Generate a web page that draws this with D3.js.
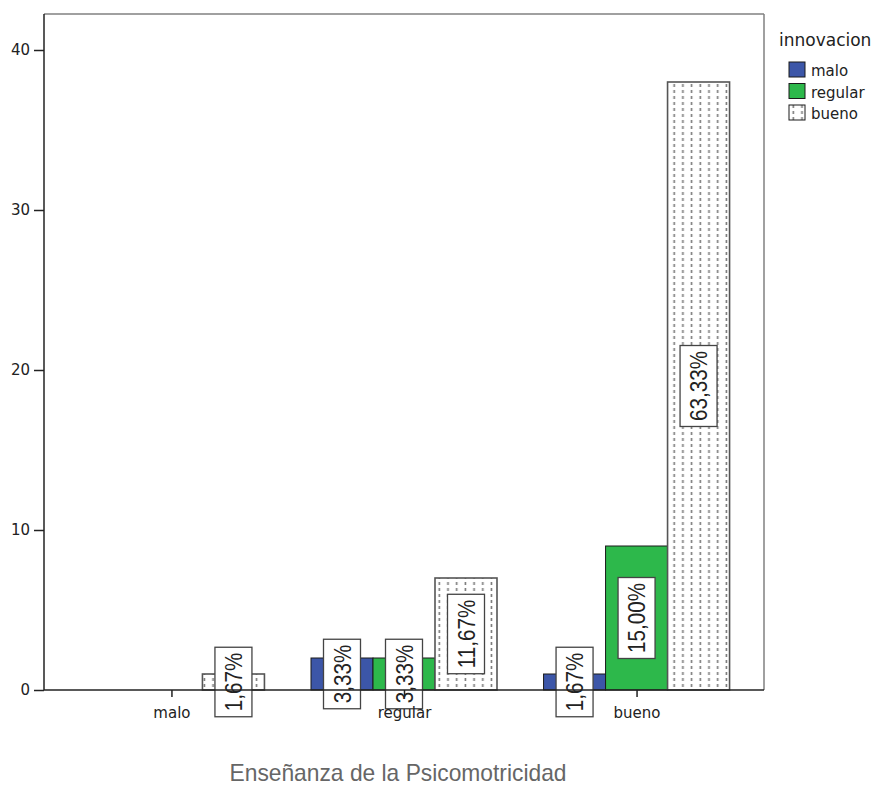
<!DOCTYPE html>
<html>
<head>
<meta charset="utf-8">
<script src="https://cdn.jsdelivr.net/npm/d3@7/dist/d3.min.js"></script>
<style>
  body { margin: 0; background: #fff; }
</style>
</head>
<body>
<div id="chart"></div>
<script>
// data (counts, N = 60)
const CATEGORIES = ["malo", "regular", "bueno"];
const SERIES = ["malo", "regular", "bueno"];
const MALO_VALUES = [0, 2, 1];
const REGULAR_VALUES = [0, 2, 9];
const BUENO_VALUES = [1, 7, 38];
const MALO_LABELS = ["", "3,33%", "1,67%"];
const REGULAR_LABELS = ["", "3,33%", "15,00%"];
const BUENO_LABELS = ["1,67%", "11,67%", "63,33%"];
const Y_TICKS = [0, 10, 20, 30, 40];
const LEGEND_TITLE = "innovacion";
const X_TITLE = "Enseñanza de la Psicomotricidad";

// page set up
const FRAME_WIDTH = 885;
const FRAME_HEIGHT = 785;
const PLOT = {left: 44, right: 764, top: 14, bottom: 690};
const COLORS = {malo: "#3c56a8", regular: "#2db84b", bueno: "url(#dots)"};

const SVG = d3.select("#chart")
  .append("svg")
  .attr("width", FRAME_WIDTH)
  .attr("height", FRAME_HEIGHT);

// dotted fill for the "bueno" bars
const pat = SVG.append("defs").append("pattern")
  .attr("id", "dots")
  .attr("patternUnits", "userSpaceOnUse")
  .attr("width", 8.7)
  .attr("height", 6);
pat.append("rect").attr("width", 8.7).attr("height", 6).attr("fill", "#fff");
pat.append("rect").attr("x", 3.5).attr("y", 0).attr("width", 1.6).attr("height", 3).attr("fill", "#7a7a7a");

const allValues = [MALO_VALUES, REGULAR_VALUES, BUENO_VALUES];
const allLabels = [MALO_LABELS, REGULAR_LABELS, BUENO_LABELS];

let rows = [];
SERIES.forEach((s, si) => {
  CATEGORIES.forEach((c, ci) => {
    rows.push({cat: c, series: s, value: allValues[si][ci], label: allLabels[si][ci]});
  });
});

// scales
const X_SCALE = d3.scalePoint()
  .domain(CATEGORIES)
  .range([PLOT.left, PLOT.right])
  .padding(0.548);

const SUB_SCALE = d3.scaleBand()
  .domain(SERIES)
  .range([-93, 93]);

const Y_SCALE = d3.scaleLinear()
  .domain([0, 42.25])
  .range([PLOT.bottom, PLOT.top]);

// bars
const barRows = rows.filter((d) => d.value > 0);
SVG.selectAll(".bar")
  .data(barRows)
  .enter()
  .append("rect")
  .attr("class", "bar")
  .attr("x", (d) => X_SCALE(d.cat) + SUB_SCALE(d.series))
  .attr("y", (d) => Y_SCALE(d.value))
  .attr("width", SUB_SCALE.bandwidth())
  .attr("height", (d) => Y_SCALE(0) - Y_SCALE(d.value))
  .attr("fill", (d) => COLORS[d.series])
  .attr("stroke", (d) => d.series == "bueno" ? "#555" : "#1a1a1a")
  .attr("stroke-width", (d) => d.series == "bueno" ? 1.6 : 1);

// percentage labels, rotated, in white boxes
const labs = SVG.selectAll(".lab")
  .data(barRows)
  .enter()
  .append("g")
  .attr("class", "lab")
  .attr("transform", (d) => "translate(" + (X_SCALE(d.cat) + SUB_SCALE(d.series) + SUB_SCALE.bandwidth() / 2) +
    "," + ((Y_SCALE(d.value) + Y_SCALE(0)) / 2) + ") rotate(-90)");

labs.append("rect").attr("class", "box");
labs.append("text")
  .attr("transform", "scale(0.86,1)")
  .attr("text-anchor", "middle")
  .attr("dy", "0.36em")
  .attr("font-family", "Liberation Sans, Arial, sans-serif")
  .attr("font-size", 24)
  .attr("fill", "#222")
  .text((d) => d.label);

labs.each(function() {
  const g = d3.select(this);
  const len = g.select("text").node().getComputedTextLength() * 0.86 + 11;
  g.select("rect")
    .attr("x", -len / 2)
    .attr("y", -18.5)
    .attr("width", len)
    .attr("height", 37)
    .attr("fill", "#fff")
    .attr("stroke", "#444")
    .attr("stroke-width", 1.3);
});

// frame
SVG.append("line")
  .attr("x1", PLOT.left).attr("x2", PLOT.right)
  .attr("y1", PLOT.top).attr("y2", PLOT.top)
  .attr("stroke", "#808080").attr("stroke-width", 1.5);
SVG.append("line")
  .attr("x1", PLOT.right).attr("x2", PLOT.right)
  .attr("y1", PLOT.top).attr("y2", PLOT.bottom)
  .attr("stroke", "#808080").attr("stroke-width", 1.5);

// Y axis
const yAxis = SVG.append("g")
  .attr("transform", "translate(" + PLOT.left + ",0)")
  .call(d3.axisLeft(Y_SCALE).tickValues(Y_TICKS).tickSize(10).tickPadding(4).tickSizeOuter(0));
yAxis.select(".domain").remove();
yAxis.selectAll("line").attr("stroke", "#222").attr("stroke-width", 1.5);
yAxis.selectAll("text").attr("font-family", "DejaVu Sans, sans-serif").attr("font-size", 15).attr("fill", "#222");
SVG.append("line")
  .attr("x1", PLOT.left).attr("x2", PLOT.left)
  .attr("y1", PLOT.top).attr("y2", PLOT.bottom)
  .attr("stroke", "#222").attr("stroke-width", 1.5);

// X axis
const xAxis = SVG.append("g")
  .attr("transform", "translate(0," + PLOT.bottom + ")")
  .call(d3.axisBottom(X_SCALE).tickSize(7).tickPadding(10).tickSizeOuter(0));
xAxis.select(".domain").remove();
xAxis.selectAll("line").attr("stroke", "#222").attr("stroke-width", 1.5);
xAxis.selectAll("text").attr("font-family", "DejaVu Sans, sans-serif").attr("font-size", 15).attr("fill", "#222");
SVG.append("line")
  .attr("x1", PLOT.left).attr("x2", PLOT.right)
  .attr("y1", PLOT.bottom).attr("y2", PLOT.bottom)
  .attr("stroke", "#222").attr("stroke-width", 1.5);

// axis title
SVG.append("text")
  .attr("x", 398)
  .attr("y", 781)
  .attr("text-anchor", "middle")
  .attr("font-family", "Liberation Sans, Arial, sans-serif")
  .attr("font-size", 24)
  .attr("textLength", 337)
  .attr("lengthAdjust", "spacingAndGlyphs")
  .attr("fill", "#666")
  .text(X_TITLE);

// legend
SVG.append("text")
  .attr("x", 779)
  .attr("y", 46)
  .attr("font-family", "DejaVu Sans, sans-serif")
  .attr("font-size", 17)
  .attr("fill", "#222")
  .text(LEGEND_TITLE);

const leg = SVG.selectAll(".leg")
  .data(SERIES)
  .enter()
  .append("g")
  .attr("class", "leg")
  .attr("transform", (d, i) => "translate(789," + (62 + i * 21.5) + ")");
leg.append("rect")
  .attr("width", 16)
  .attr("height", 15)
  .attr("fill", (d) => COLORS[d])
  .attr("stroke", "#1a1a1a")
  .attr("stroke-width", 1);
leg.append("text")
  .attr("x", 22)
  .attr("y", 14)
  .attr("font-family", "DejaVu Sans, sans-serif")
  .attr("font-size", 15)
  .attr("fill", "#222")
  .text((d) => d);
</script>
</body>
</html>
